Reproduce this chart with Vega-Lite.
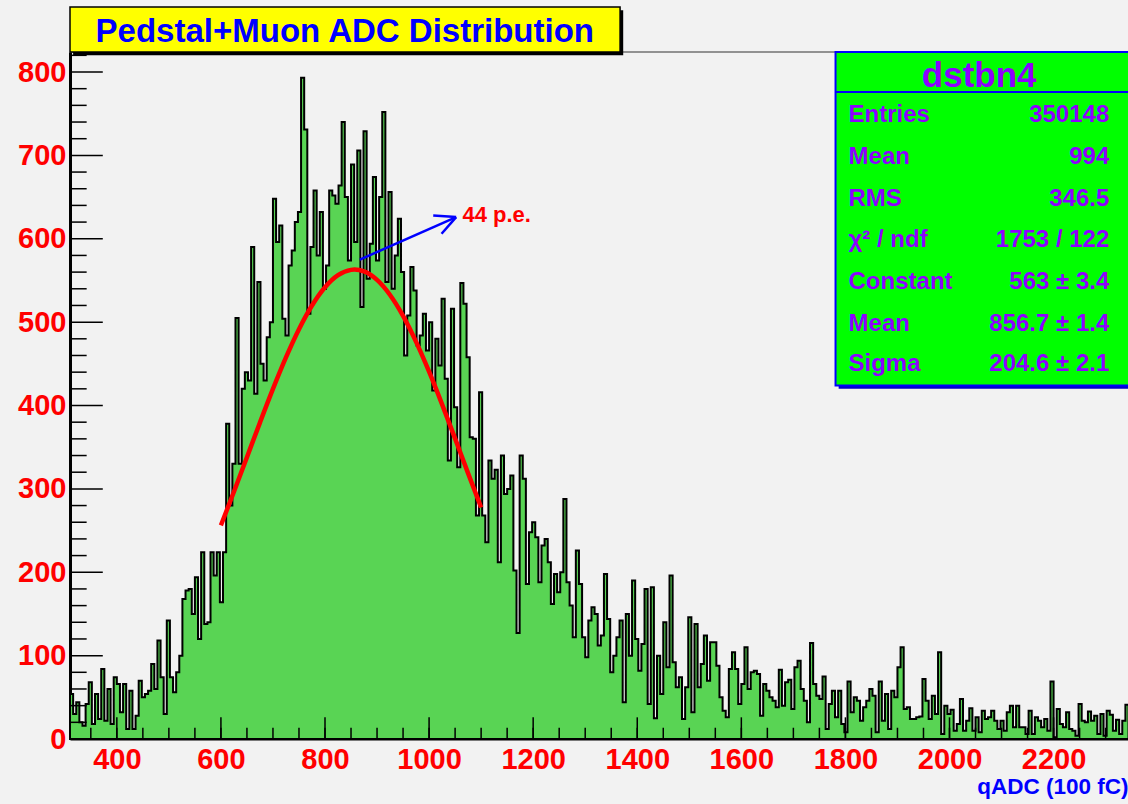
{
  "$schema": "https://vega.github.io/schema/vega-lite/v6.json",
  "width": 1058,
  "height": 687,
  "autosize": {"type": "none"},
  "padding": {"left": 70, "top": 52, "right": 0, "bottom": 65},
  "background": "#f2f2f2",
  "config": {"view": {"stroke": null}, "font": "Liberation Sans"},
  "datasets": {
    "hist": [
      {"x":310,"n":54},{"x":316,"n":30},{"x":322,"n":44},{"x":328,"n":20},{"x":334,"n":16},{"x":340,"n":42},{"x":346,"n":68},{"x":352,"n":18},{"x":358,"n":54},{"x":364,"n":24},
      {"x":370,"n":84},{"x":376,"n":22},{"x":382,"n":60},{"x":388,"n":18},{"x":394,"n":74},{"x":400,"n":66},{"x":406,"n":32},{"x":412,"n":66},{"x":418,"n":12},{"x":424,"n":58},
      {"x":430,"n":12},{"x":436,"n":28},{"x":442,"n":70},{"x":448,"n":50},{"x":454,"n":54},{"x":460,"n":58},{"x":466,"n":90},{"x":472,"n":60},{"x":478,"n":118},{"x":484,"n":74},
      {"x":490,"n":30},{"x":496,"n":142},{"x":502,"n":74},{"x":508,"n":56},{"x":514,"n":80},{"x":520,"n":100},{"x":526,"n":168},{"x":532,"n":178},{"x":538,"n":180},{"x":544,"n":150},
      {"x":550,"n":194},{"x":556,"n":120},{"x":562,"n":224},{"x":568,"n":138},{"x":574,"n":140},{"x":580,"n":224},{"x":586,"n":196},{"x":592,"n":224},{"x":598,"n":164},{"x":604,"n":224},
      {"x":610,"n":378},{"x":616,"n":280},{"x":622,"n":330},{"x":628,"n":505},{"x":634,"n":330},{"x":640,"n":420},{"x":646,"n":440},{"x":652,"n":430},{"x":658,"n":590},{"x":664,"n":414},
      {"x":670,"n":548},{"x":676,"n":450},{"x":682,"n":430},{"x":688,"n":482},{"x":694,"n":500},{"x":700,"n":648},{"x":706,"n":596},{"x":712,"n":616},{"x":718,"n":504},{"x":724,"n":484},
      {"x":730,"n":568},{"x":736,"n":586},{"x":742,"n":620},{"x":748,"n":632},{"x":754,"n":793},{"x":760,"n":731},{"x":766,"n":510},{"x":772,"n":590},{"x":778,"n":658},{"x":784,"n":580},
      {"x":790,"n":632},{"x":796,"n":540},{"x":802,"n":568},{"x":808,"n":658},{"x":814,"n":652},{"x":820,"n":642},{"x":826,"n":664},{"x":832,"n":740},{"x":838,"n":650},{"x":844,"n":574},
      {"x":850,"n":689},{"x":856,"n":596},{"x":862,"n":706},{"x":868,"n":518},{"x":874,"n":729},{"x":880,"n":552},{"x":886,"n":594},{"x":892,"n":674},{"x":898,"n":574},{"x":904,"n":650},
      {"x":910,"n":752},{"x":916,"n":548},{"x":922,"n":656},{"x":928,"n":540},{"x":934,"n":580},{"x":940,"n":624},{"x":946,"n":560},{"x":952,"n":460},{"x":958,"n":508},{"x":964,"n":566},
      {"x":970,"n":538},{"x":976,"n":472},{"x":982,"n":484},{"x":988,"n":510},{"x":994,"n":466},{"x":1000,"n":500},{"x":1006,"n":418},{"x":1012,"n":480},{"x":1018,"n":448},{"x":1024,"n":528},
      {"x":1030,"n":432},{"x":1036,"n":334},{"x":1042,"n":516},{"x":1048,"n":398},{"x":1054,"n":326},{"x":1060,"n":547},{"x":1066,"n":522},{"x":1072,"n":458},{"x":1078,"n":362},{"x":1084,"n":360},
      {"x":1090,"n":268},{"x":1096,"n":416},{"x":1102,"n":268},{"x":1108,"n":236},{"x":1114,"n":334},{"x":1120,"n":312},{"x":1126,"n":323},{"x":1132,"n":212},{"x":1138,"n":340},{"x":1144,"n":294},
      {"x":1150,"n":300},{"x":1156,"n":316},{"x":1162,"n":202},{"x":1168,"n":127},{"x":1174,"n":340},{"x":1180,"n":312},{"x":1186,"n":186},{"x":1192,"n":248},{"x":1198,"n":260},{"x":1204,"n":242},
      {"x":1210,"n":188},{"x":1216,"n":232},{"x":1222,"n":240},{"x":1228,"n":212},{"x":1234,"n":162},{"x":1240,"n":198},{"x":1246,"n":176},{"x":1252,"n":200},{"x":1258,"n":288},{"x":1264,"n":188},
      {"x":1270,"n":160},{"x":1276,"n":122},{"x":1282,"n":226},{"x":1288,"n":186},{"x":1294,"n":122},{"x":1300,"n":98},{"x":1306,"n":142},{"x":1312,"n":158},{"x":1318,"n":150},{"x":1324,"n":112},
      {"x":1330,"n":124},{"x":1336,"n":198},{"x":1342,"n":144},{"x":1348,"n":80},{"x":1354,"n":100},{"x":1360,"n":122},{"x":1366,"n":142},{"x":1372,"n":44},{"x":1378,"n":150},{"x":1384,"n":100},
      {"x":1390,"n":190},{"x":1396,"n":120},{"x":1402,"n":82},{"x":1408,"n":114},{"x":1414,"n":180},{"x":1420,"n":42},{"x":1426,"n":182},{"x":1432,"n":25},{"x":1438,"n":100},{"x":1444,"n":54},
      {"x":1450,"n":140},{"x":1456,"n":86},{"x":1462,"n":196},{"x":1468,"n":92},{"x":1474,"n":62},{"x":1480,"n":74},{"x":1486,"n":24},{"x":1492,"n":62},{"x":1498,"n":146},{"x":1504,"n":32},
      {"x":1510,"n":138},{"x":1516,"n":62},{"x":1522,"n":90},{"x":1528,"n":124},{"x":1534,"n":70},{"x":1540,"n":116},{"x":1546,"n":116},{"x":1552,"n":88},{"x":1558,"n":50},{"x":1564,"n":34},
      {"x":1570,"n":26},{"x":1576,"n":84},{"x":1582,"n":104},{"x":1588,"n":84},{"x":1594,"n":42},{"x":1600,"n":66},{"x":1606,"n":110},{"x":1612,"n":60},{"x":1618,"n":80},{"x":1624,"n":82},
      {"x":1630,"n":78},{"x":1636,"n":28},{"x":1642,"n":66},{"x":1648,"n":58},{"x":1654,"n":50},{"x":1660,"n":46},{"x":1666,"n":38},{"x":1672,"n":83},{"x":1678,"n":40},{"x":1684,"n":68},
      {"x":1690,"n":71},{"x":1696,"n":36},{"x":1702,"n":86},{"x":1708,"n":94},{"x":1714,"n":60},{"x":1720,"n":46},{"x":1726,"n":20},{"x":1732,"n":115},{"x":1738,"n":66},{"x":1744,"n":52},
      {"x":1750,"n":48},{"x":1756,"n":75},{"x":1762,"n":12},{"x":1768,"n":42},{"x":1774,"n":58},{"x":1780,"n":26},{"x":1786,"n":58},{"x":1792,"n":18},{"x":1798,"n":8},{"x":1804,"n":69},
      {"x":1810,"n":32},{"x":1816,"n":50},{"x":1822,"n":46},{"x":1828,"n":22},{"x":1834,"n":38},{"x":1840,"n":46},{"x":1846,"n":60},{"x":1852,"n":52},{"x":1858,"n":8},{"x":1864,"n":69},
      {"x":1870,"n":22},{"x":1876,"n":54},{"x":1882,"n":12},{"x":1888,"n":58},{"x":1894,"n":50},{"x":1900,"n":86},{"x":1906,"n":110},{"x":1912,"n":36},{"x":1918,"n":38},{"x":1924,"n":24},
      {"x":1930,"n":24},{"x":1936,"n":26},{"x":1942,"n":27},{"x":1948,"n":72},{"x":1954,"n":46},{"x":1960,"n":24},{"x":1966,"n":52},{"x":1972,"n":30},{"x":1978,"n":104},{"x":1984,"n":6},
      {"x":1990,"n":40},{"x":1996,"n":30},{"x":2002,"n":35},{"x":2008,"n":10},{"x":2014,"n":18},{"x":2020,"n":48},{"x":2026,"n":10},{"x":2032,"n":22},{"x":2038,"n":37},{"x":2044,"n":10},
      {"x":2050,"n":26},{"x":2056,"n":8},{"x":2062,"n":34},{"x":2068,"n":24},{"x":2074,"n":26},{"x":2080,"n":34},{"x":2086,"n":22},{"x":2092,"n":12},{"x":2098,"n":22},{"x":2104,"n":10},
      {"x":2110,"n":32},{"x":2116,"n":40},{"x":2122,"n":14},{"x":2128,"n":40},{"x":2134,"n":14},{"x":2140,"n":14},{"x":2146,"n":6},{"x":2152,"n":34},{"x":2158,"n":6},{"x":2164,"n":26},
      {"x":2170,"n":22},{"x":2176,"n":14},{"x":2182,"n":24},{"x":2188,"n":10},{"x":2194,"n":69},{"x":2200,"n":2},{"x":2206,"n":36},{"x":2212,"n":18},{"x":2218,"n":14},{"x":2224,"n":32},
      {"x":2230,"n":12},{"x":2236,"n":10},{"x":2242,"n":4},{"x":2248,"n":42},{"x":2254,"n":22},{"x":2260,"n":20},{"x":2266,"n":33},{"x":2272,"n":22},{"x":2278,"n":28},{"x":2284,"n":6},
      {"x":2290,"n":30},{"x":2296,"n":4},{"x":2302,"n":34},{"x":2308,"n":29},{"x":2314,"n":10},{"x":2320,"n":23},{"x":2326,"n":6},{"x":2332,"n":22},{"x":2338,"n":41},{"x":2344,"n":41}
    ],
    "fit": [
      {"x":600,"f":256.3},{"x":625,"f":296.5},{"x":650,"f":338.0},{"x":675,"f":379.5},{"x":700,"f":419.9},{"x":725,"f":457.7},{"x":750,"f":491.5},{"x":775,"f":519.9},{"x":800,"f":541.8},{"x":825,"f":556.3},{"x":850,"f":562.7},{"x":856.7,"f":563.0},{"x":875,"f":560.8},{"x":900,"f":550.6},{"x":925,"f":532.5},{"x":950,"f":507.4},{"x":975,"f":476.3},{"x":1000,"f":440.6},{"x":1025,"f":401.4},{"x":1050,"f":360.3},{"x":1075,"f":318.6},{"x":1100,"f":277.6}
    ],
    "xmajor": [{"v":400},{"v":600},{"v":800},{"v":1000},{"v":1200},{"v":1400},{"v":1600},{"v":1800},{"v":2000},{"v":2200}],
    "xminor": [{"v":350},{"v":400},{"v":450},{"v":500},{"v":550},{"v":600},{"v":650},{"v":700},{"v":750},{"v":800},{"v":850},{"v":900},{"v":950},{"v":1000},{"v":1050},{"v":1100},{"v":1150},{"v":1200},{"v":1250},{"v":1300},{"v":1350},{"v":1400},{"v":1450},{"v":1500},{"v":1550},{"v":1600},{"v":1650},{"v":1700},{"v":1750},{"v":1800},{"v":1850},{"v":1900},{"v":1950},{"v":2000},{"v":2050},{"v":2100},{"v":2150},{"v":2200},{"v":2250},{"v":2300}],
    "ymajor": [{"v":0},{"v":100},{"v":200},{"v":300},{"v":400},{"v":500},{"v":600},{"v":700},{"v":800}],
    "yminor": [{"v":20},{"v":40},{"v":60},{"v":80},{"v":120},{"v":140},{"v":160},{"v":180},{"v":220},{"v":240},{"v":260},{"v":280},{"v":320},{"v":340},{"v":360},{"v":380},{"v":420},{"v":440},{"v":460},{"v":480},{"v":520},{"v":540},{"v":560},{"v":580},{"v":620},{"v":640},{"v":660},{"v":680},{"v":720},{"v":740},{"v":760},{"v":780},{"v":820}],
    "one": [{}]
  },
  "layer": [
    {
      "data": {"name": "hist"},
      "mark": {"type": "area", "interpolate": "step-after", "fill": "#59d454", "stroke": "#000000", "strokeWidth": 2, "fillOpacity": 1},
      "encoding": {
        "x": {"field": "x", "type": "quantitative",
          "scale": {"domain": [310, 2343], "nice": false, "zero": false},
          "axis": {"values": [400,600,800,1000,1200,1400,1600,1800,2000,2200], "format": "d", "ticks": false, "grid": false,
            "domainColor": "#000000", "domainWidth": 2,
            "labelColor": "#ff0000", "labelFontSize": 29, "labelFontWeight": "bold", "labelFont": "Liberation Sans",
            "labelPadding": 6, "labelFlush": false, "labelOverlap": false,
            "title": "qADC (100 fC)", "titleColor": "#0000ff", "titleFontSize": 22.5, "titleFontWeight": "bold", "titleFont": "Liberation Sans",
            "titleAnchor": "end", "titleAlign": "right", "titlePadding": 1}},
        "y": {"field": "n", "type": "quantitative",
          "scale": {"domain": [0, 824], "nice": false, "zero": true},
          "axis": {"values": [0,100,200,300,400,500,600,700,800], "format": "d", "ticks": false, "grid": false,
            "domainColor": "#000000", "domainWidth": 3,
            "labelColor": "#ff0000", "labelFontSize": 29, "labelFontWeight": "bold", "labelFont": "Liberation Sans",
            "labelPadding": 4, "labelFlush": false, "labelOverlap": false, "title": null}}
      }
    },
    {
      "data": {"name": "xminor"},
      "mark": {"type": "rule", "color": "#000000", "strokeWidth": 1.5},
      "encoding": {"x": {"field": "v", "type": "quantitative"}, "y": {"datum": 0}, "y2": {"datum": 13.5}}
    },
    {
      "data": {"name": "xmajor"},
      "mark": {"type": "rule", "color": "#000000", "strokeWidth": 1.5},
      "encoding": {"x": {"field": "v", "type": "quantitative"}, "y": {"datum": 0}, "y2": {"datum": 26}}
    },
    {
      "data": {"name": "yminor"},
      "mark": {"type": "rule", "color": "#000000", "strokeWidth": 1.5},
      "encoding": {"y": {"field": "v", "type": "quantitative"}, "x": {"datum": 310}, "x2": {"datum": 342}}
    },
    {
      "data": {"name": "ymajor"},
      "mark": {"type": "rule", "color": "#000000", "strokeWidth": 1.5},
      "encoding": {"y": {"field": "v", "type": "quantitative"}, "x": {"datum": 310}, "x2": {"datum": 373}}
    },
    {
      "data": {"name": "fit"},
      "mark": {"type": "line", "color": "#ff0000", "strokeWidth": 4.5, "interpolate": "monotone"},
      "encoding": {"x": {"field": "x", "type": "quantitative"}, "y": {"field": "f", "type": "quantitative"}}
    },
    {
      "data": {"name": "one"},
      "mark": {"type": "rule", "color": "#0000ff", "strokeWidth": 2.5},
      "encoding": {"x": {"datum": 867}, "y": {"datum": 575}, "x2": {"datum": 1052}, "y2": {"datum": 626}}
    },
    {
      "data": {"name": "one"},
      "mark": {"type": "rule", "color": "#0000ff", "strokeWidth": 2.5},
      "encoding": {"x": {"datum": 1052}, "y": {"datum": 626}, "x2": {"datum": 1008}, "y2": {"datum": 628}}
    },
    {
      "data": {"name": "one"},
      "mark": {"type": "rule", "color": "#0000ff", "strokeWidth": 2.5},
      "encoding": {"x": {"datum": 1052}, "y": {"datum": 626}, "x2": {"datum": 1024}, "y2": {"datum": 606}}
    },
    {
      "data": {"name": "one"},
      "mark": {"type": "text", "text": "44 p.e.", "color": "#ff0000", "fontSize": 22, "fontWeight": "bold", "align": "left", "baseline": "middle", "font": "Liberation Sans"},
      "encoding": {"x": {"datum": 1064}, "y": {"datum": 628}}
    },
    {
      "data": {"name": "one"},
      "mark": {"type": "rule", "color": "#333333", "strokeWidth": 1},
      "encoding": {"x": {"datum": 310}, "x2": {"datum": 2343}, "y": {"datum": 824}}
    },
    {
      "data": {"name": "one"},
      "mark": {"type": "rect", "fill": "#000000"},
      "encoding": {"x": {"datum": 316}, "x2": {"datum": 1373}, "y": {"datum": 820}, "y2": {"datum": 874}}
    },
    {
      "data": {"name": "one"},
      "mark": {"type": "rect", "fill": "#ffff00", "stroke": "#000000", "strokeWidth": 1.5},
      "encoding": {"x": {"datum": 310}, "x2": {"datum": 1367}, "y": {"datum": 824}, "y2": {"datum": 878}}
    },
    {
      "data": {"name": "one"},
      "mark": {"type": "text", "text": "Pedstal+Muon ADC Distribution", "color": "#0000ff", "fontSize": 33, "fontWeight": "bold", "align": "center", "baseline": "middle", "font": "Liberation Sans"},
      "encoding": {"x": {"datum": 838}, "y": {"datum": 848}}
    },
    {
      "data": {"name": "one"},
      "mark": {"type": "rect", "fill": "#0000cc"},
      "encoding": {"x": {"datum": 1787}, "x2": {"datum": 2400}, "y": {"datum": 420}, "y2": {"datum": 820}}
    },
    {
      "data": {"name": "one"},
      "mark": {"type": "rect", "fill": "#00ff00", "stroke": "#0000ff", "strokeWidth": 2},
      "encoding": {"x": {"datum": 1781}, "x2": {"datum": 2400}, "y": {"datum": 424}, "y2": {"datum": 824}}
    },
    {
      "data": {"name": "one"},
      "mark": {"type": "rule", "color": "#0000ff", "strokeWidth": 2},
      "encoding": {"x": {"datum": 1781}, "x2": {"datum": 2400}, "y": {"datum": 776}}
    },
    {
      "data": {"name": "one"},
      "mark": {"type": "text", "text": "dstbn4", "color": "#8e00ff", "fontSize": 35, "fontWeight": "bold", "align": "center", "baseline": "middle", "font": "Liberation Sans"},
      "encoding": {"x": {"datum": 2057}, "y": {"datum": 795}}
    },
    {"data": {"name": "one"}, "mark": {"type": "text", "text": "Entries", "color": "#8e00ff", "fontSize": 24, "fontWeight": "bold", "align": "left", "baseline": "middle", "font": "Liberation Sans"}, "encoding": {"x": {"datum": 1806}, "y": {"datum": 748}}},
    {"data": {"name": "one"}, "mark": {"type": "text", "text": "350148", "color": "#8e00ff", "fontSize": 24, "fontWeight": "bold", "align": "right", "baseline": "middle", "font": "Liberation Sans"}, "encoding": {"x": {"datum": 2307}, "y": {"datum": 748}}},
    {"data": {"name": "one"}, "mark": {"type": "text", "text": "Mean", "color": "#8e00ff", "fontSize": 24, "fontWeight": "bold", "align": "left", "baseline": "middle", "font": "Liberation Sans"}, "encoding": {"x": {"datum": 1806}, "y": {"datum": 697.5}}},
    {"data": {"name": "one"}, "mark": {"type": "text", "text": "994", "color": "#8e00ff", "fontSize": 24, "fontWeight": "bold", "align": "right", "baseline": "middle", "font": "Liberation Sans"}, "encoding": {"x": {"datum": 2307}, "y": {"datum": 697.5}}},
    {"data": {"name": "one"}, "mark": {"type": "text", "text": "RMS", "color": "#8e00ff", "fontSize": 24, "fontWeight": "bold", "align": "left", "baseline": "middle", "font": "Liberation Sans"}, "encoding": {"x": {"datum": 1806}, "y": {"datum": 648}}},
    {"data": {"name": "one"}, "mark": {"type": "text", "text": "346.5", "color": "#8e00ff", "fontSize": 24, "fontWeight": "bold", "align": "right", "baseline": "middle", "font": "Liberation Sans"}, "encoding": {"x": {"datum": 2307}, "y": {"datum": 648}}},
    {"data": {"name": "one"}, "mark": {"type": "text", "text": "χ² / ndf", "color": "#8e00ff", "fontSize": 24, "fontWeight": "bold", "align": "left", "baseline": "middle", "font": "Liberation Sans"}, "encoding": {"x": {"datum": 1806}, "y": {"datum": 598}}},
    {"data": {"name": "one"}, "mark": {"type": "text", "text": "1753 / 122", "color": "#8e00ff", "fontSize": 24, "fontWeight": "bold", "align": "right", "baseline": "middle", "font": "Liberation Sans"}, "encoding": {"x": {"datum": 2307}, "y": {"datum": 598}}},
    {"data": {"name": "one"}, "mark": {"type": "text", "text": "Constant", "color": "#8e00ff", "fontSize": 24, "fontWeight": "bold", "align": "left", "baseline": "middle", "font": "Liberation Sans"}, "encoding": {"x": {"datum": 1806}, "y": {"datum": 548}}},
    {"data": {"name": "one"}, "mark": {"type": "text", "text": "563 ± 3.4", "color": "#8e00ff", "fontSize": 24, "fontWeight": "bold", "align": "right", "baseline": "middle", "font": "Liberation Sans"}, "encoding": {"x": {"datum": 2307}, "y": {"datum": 548}}},
    {"data": {"name": "one"}, "mark": {"type": "text", "text": "Mean", "color": "#8e00ff", "fontSize": 24, "fontWeight": "bold", "align": "left", "baseline": "middle", "font": "Liberation Sans"}, "encoding": {"x": {"datum": 1806}, "y": {"datum": 498}}},
    {"data": {"name": "one"}, "mark": {"type": "text", "text": "856.7 ± 1.4", "color": "#8e00ff", "fontSize": 24, "fontWeight": "bold", "align": "right", "baseline": "middle", "font": "Liberation Sans"}, "encoding": {"x": {"datum": 2307}, "y": {"datum": 498}}},
    {"data": {"name": "one"}, "mark": {"type": "text", "text": "Sigma", "color": "#8e00ff", "fontSize": 24, "fontWeight": "bold", "align": "left", "baseline": "middle", "font": "Liberation Sans"}, "encoding": {"x": {"datum": 1806}, "y": {"datum": 450}}},
    {"data": {"name": "one"}, "mark": {"type": "text", "text": "204.6 ± 2.1", "color": "#8e00ff", "fontSize": 24, "fontWeight": "bold", "align": "right", "baseline": "middle", "font": "Liberation Sans"}, "encoding": {"x": {"datum": 2307}, "y": {"datum": 450}}}
  ]
}
